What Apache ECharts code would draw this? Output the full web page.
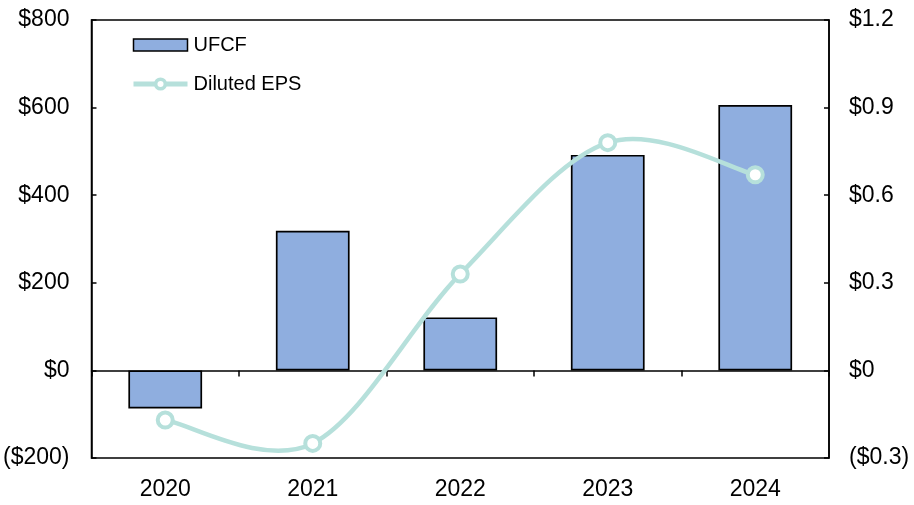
<!DOCTYPE html>
<html>
<head>
<meta charset="utf-8">
<script src="https://cdn.jsdelivr.net/npm/echarts@6/dist/echarts.min.js"></script>
<style>
  html, body { margin: 0; padding: 0; background: #fff; }
  #chart { width: 914px; height: 505px; }
</style>
</head>
<body>
<div id="chart"></div>
<script>
// Fiscal years on the category axis
const years = ['2020', '2021', '2022', '2023', '2024'];
// Unlevered free cash flow, $ millions (left axis)
const ufcf = [-87, 319, 121, 492, 606];
// Diluted earnings per share, $ (right axis)
const dilutedEps = [-0.17, -0.25, 0.33, 0.78, 0.67];

const FONT = '"Liberation Sans", Arial, sans-serif';
const BAR_COLOR = '#8FAEDF';
const LINE_COLOR = '#B6E0DB';

function leftFmt(v) {
  if (v < 0) return '($' + Math.abs(v) + ')';
  return '$' + v;
}
function rightFmt(v) {
  const r = Math.round(v * 10) / 10;
  if (r === 0) return '$0';
  const s = Math.abs(r).toFixed(1);
  return r < 0 ? '($' + s + ')' : '$' + s;
}

// Cardinal (Catmull-Rom style) spline segment between point i and i+1,
// computed in pixel space from the axis-mapped EPS values.
function renderEpsSegment(params, api) {
  const i = params.dataIndex;
  const n = dilutedEps.length;
  if (i >= n - 1) return null;
  const pt = (j) => {
    const k = Math.max(0, Math.min(n - 1, j));
    return api.coord([k, dilutedEps[k]]);
  };
  const p0 = pt(i - 1), p1 = pt(i), p2 = pt(i + 1), p3 = pt(i + 2);
  const t = 1 / 6;
  return {
    type: 'bezierCurve',
    shape: {
      x1: p1[0], y1: p1[1],
      cpx1: p1[0] + (p2[0] - p0[0]) * t, cpy1: p1[1] + (p2[1] - p0[1]) * t,
      cpx2: p2[0] - (p3[0] - p1[0]) * t, cpy2: p2[1] - (p3[1] - p1[1]) * t,
      x2: p2[0], y2: p2[1]
    },
    style: { stroke: LINE_COLOR, lineWidth: 4.5, fill: null, lineCap: 'round' }
  };
}

const chart = echarts.init(document.getElementById('chart'), null, { renderer: 'canvas' });
chart.setOption({
  animation: false,
  backgroundColor: '#fff',
  textStyle: { fontFamily: FONT },
  legend: {
    orient: 'vertical',
    left: 126,
    top: 30,
    itemGap: 19,
    itemWidth: 54,
    itemHeight: 12,
    textStyle: { fontFamily: FONT, fontSize: 20, color: '#000', padding: [0, 0, 0, 1] },
    data: [
      { name: 'UFCF', icon: 'rect', itemStyle: { color: BAR_COLOR, borderColor: '#000', borderWidth: 1.5 } },
      { name: 'Diluted EPS', lineStyle: { color: LINE_COLOR, width: 5, opacity: 1 },
        itemStyle: { color: '#fff', borderColor: LINE_COLOR, borderWidth: 3.5 } }
    ]
  },
  grid: {
    left: 91, right: 85, top: 20, bottom: 47,
    show: true, borderColor: '#000', borderWidth: 1.5, backgroundColor: 'transparent'
  },
  xAxis: [
    {
      type: 'category',
      data: years,
      position: 'bottom',
      axisLine: { show: false, onZero: false },
      axisTick: { show: false },
      axisLabel: { fontFamily: FONT, fontSize: 23, color: '#000', margin: 20 }
    },
    {
      // zero baseline with category separators
      type: 'category',
      data: years,
      position: 'bottom',
      axisLine: { show: true, onZero: true, onZeroAxisIndex: 0, lineStyle: { color: '#000', width: 1.5 } },
      axisTick: { show: true, length: 6, lineStyle: { color: '#000', width: 1.5 } },
      axisLabel: { show: false }
    }
  ],
  yAxis: [
    {
      type: 'value',
      min: -200, max: 800, interval: 200,
      axisLine: { show: true, lineStyle: { color: '#000', width: 1.5 } },
      axisTick: { show: true, inside: true, length: 5, lineStyle: { color: '#000', width: 1.5 } },
      splitLine: { show: false },
      axisLabel: { fontFamily: FONT, fontSize: 23, color: '#000', margin: 22, formatter: leftFmt }
    },
    {
      type: 'value',
      min: -0.3, max: 1.2, interval: 0.3,
      position: 'right',
      axisLine: { show: true, lineStyle: { color: '#000', width: 1.5 } },
      axisTick: { show: true, inside: true, length: 5, lineStyle: { color: '#000', width: 1.5 } },
      splitLine: { show: false },
      axisLabel: { fontFamily: FONT, fontSize: 23, color: '#000', margin: 20, formatter: rightFmt }
    }
  ],
  series: [
    {
      name: 'UFCF',
      type: 'bar',
      xAxisIndex: 0,
      yAxisIndex: 0,
      data: ufcf,
      barWidth: '50%',
      itemStyle: { color: BAR_COLOR, borderColor: '#000', borderWidth: 1.7 },
      z: 2
    },
    {
      name: 'EPS curve',
      type: 'custom',
      xAxisIndex: 0,
      yAxisIndex: 1,
      data: dilutedEps.map((v, i) => [i, v]),
      renderItem: renderEpsSegment,
      silent: true,
      z: 4
    },
    {
      name: 'Diluted EPS',
      type: 'line',
      xAxisIndex: 0,
      yAxisIndex: 1,
      data: dilutedEps,
      symbol: 'circle',
      symbolSize: 15,
      lineStyle: { color: LINE_COLOR, width: 0, opacity: 0 },
      itemStyle: { color: '#fff', borderColor: LINE_COLOR, borderWidth: 4 },
      z: 5
    }
  ]
});
</script>
</body>
</html>
